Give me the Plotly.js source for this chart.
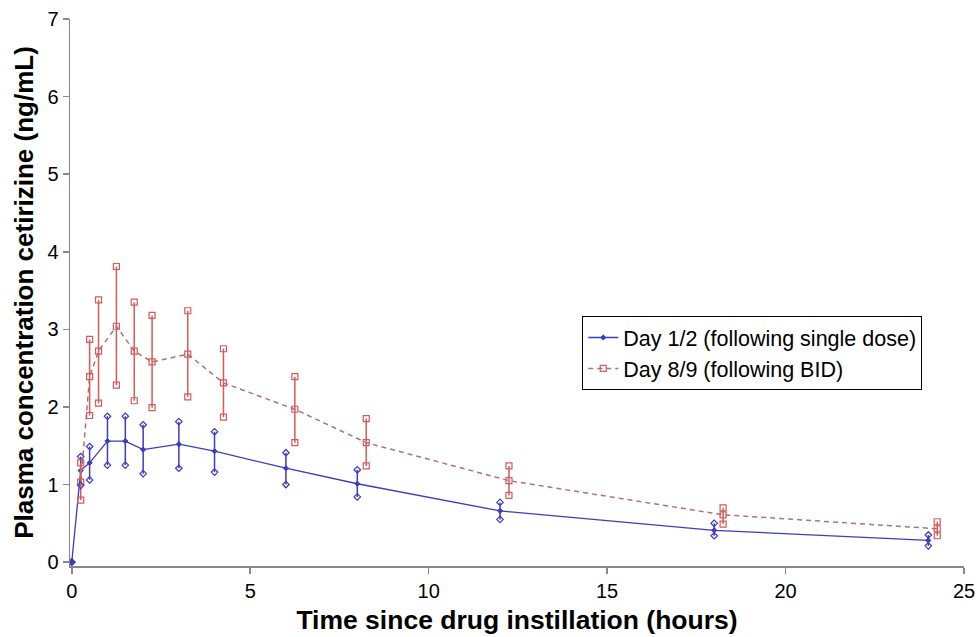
<!DOCTYPE html>
<html>
<head>
<meta charset="utf-8">
<script src="https://cdn.plot.ly/plotly-3.0.1.min.js"></script>
<style>body{margin:0;background:#fff;}#chart{width:977px;height:637px;}</style>
</head>
<body>
<div id="chart"></div>
<script>
// Day 1/2 (following single dose)
const day1Time  = [0, 0.25, 0.5, 1, 1.5, 2, 3, 4, 6, 8, 12, 18, 24];
const day1Mean  = [0, 1.18, 1.28, 1.56, 1.56, 1.45, 1.52, 1.43, 1.21, 1.01, 0.66, 0.41, 0.28];
const day1Upper = [0, 1.36, 1.49, 1.88, 1.88, 1.77, 1.81, 1.68, 1.41, 1.19, 0.77, 0.50, 0.35];
const day1Lower = [0, 0.99, 1.06, 1.25, 1.25, 1.14, 1.21, 1.16, 1.00, 0.84, 0.55, 0.34, 0.21];

// Day 8/9 (following BID)
const day8Time  = [0.25, 0.5, 0.75, 1.25, 1.75, 2.25, 3.25, 4.25, 6.25, 8.25, 12.25, 18.25, 24.25];
const day8Mean  = [1.03, 2.39, 2.72, 3.04, 2.72, 2.58, 2.68, 2.31, 1.97, 1.54, 1.05, 0.61, 0.43];
const day8Upper = [1.28, 2.87, 3.38, 3.81, 3.35, 3.18, 3.24, 2.75, 2.39, 1.85, 1.24, 0.70, 0.52];
const day8Lower = [0.80, 1.89, 2.05, 2.28, 2.08, 1.99, 2.13, 1.87, 1.54, 1.24, 0.86, 0.49, 0.34];

const xTicks = [0, 5, 10, 15, 20, 25];
const yTicks = [0, 1, 2, 3, 4, 5, 6, 7];

const blue = '#3b3bc4';
const redLine = '#b07272';
const redBar = '#d65a5a';

function diff(a, b) { return a.map((v, i) => v - b[i]); }

const traces = [
  {
    x: day1Time, y: day1Mean, type: 'scatter', mode: 'lines+markers',
    name: 'Day 1/2 (following single dose)',
    line: {color: blue, width: 1.3},
    marker: {symbol: 'diamond', size: 4, color: blue, line: {color: blue, width: 1}},
    error_y: {type: 'data', symmetric: false, array: diff(day1Upper, day1Mean), arrayminus: diff(day1Mean, day1Lower), color: blue, thickness: 1.5, width: 0}
  },
  {
    x: day8Time, y: day8Mean, type: 'scatter', mode: 'lines+markers',
    name: 'Day 8/9 (following BID)',
    line: {color: redLine, width: 1.5, dash: '5px,4px'},
    marker: {symbol: 'square-open', size: 6, color: redBar, line: {color: redBar, width: 1.2}},
    error_y: {type: 'data', symmetric: false, array: diff(day8Upper, day8Mean), arrayminus: diff(day8Mean, day8Lower), color: redBar, thickness: 1.5, width: 0}
  },
  {x: day1Time, y: day1Upper, type: 'scatter', mode: 'markers', showlegend: false, hoverinfo: 'skip',
   marker: {symbol: 'diamond-open', size: 5, color: blue, line: {color: blue, width: 1.2}}},
  {x: day1Time, y: day1Lower, type: 'scatter', mode: 'markers', showlegend: false, hoverinfo: 'skip',
   marker: {symbol: 'diamond-open', size: 5, color: blue, line: {color: blue, width: 1.2}}},
  {x: day8Time, y: day8Upper, type: 'scatter', mode: 'markers', showlegend: false, hoverinfo: 'skip',
   marker: {symbol: 'square-open', size: 6, color: redBar, line: {color: redBar, width: 1.2}}},
  {x: day8Time, y: day8Lower, type: 'scatter', mode: 'markers', showlegend: false, hoverinfo: 'skip',
   marker: {symbol: 'square-open', size: 6, color: redBar, line: {color: redBar, width: 1.2}}}
];

const layout = {
  width: 977, height: 637,
  margin: {l: 70, r: 13, t: 19, b: 71},
  paper_bgcolor: '#fff', plot_bgcolor: '#fff',
  font: {family: 'Arial, "Liberation Sans", sans-serif', color: '#000', size: 20},
  showlegend: true,
  legend: {
    x: 0.573, y: 0.457, xanchor: 'left', yanchor: 'top',
    bordercolor: '#000', borderwidth: 1, bgcolor: '#fff',
    font: {size: 21.5, color: '#000'}, tracegroupgap: 0, itemwidth: 30
  },
  xaxis: {
    range: [-0.05, 25], tickvals: xTicks, ticktext: xTicks.map(String),
    showgrid: false, zeroline: false, showline: true, linecolor: '#888', linewidth: 1.5,
    ticks: 'outside', ticklen: 6, tickcolor: '#888', tickwidth: 1.5,
    tickfont: {size: 20},
    title: {text: '<b>Time since drug instillation (hours)</b>', font: {size: 26.5}, standoff: 10}
  },
  yaxis: {
    range: [-0.05, 7], tickvals: yTicks, ticktext: yTicks.map(String),
    showgrid: false, zeroline: false, showline: true, linecolor: '#888', linewidth: 1.5,
    ticks: 'outside', ticklen: 6, tickcolor: '#888', tickwidth: 1.5,
    tickfont: {size: 20},
    title: {text: '<b>Plasma concentration cetirizine (ng/mL)</b>', font: {size: 26}, standoff: 6}
  }
};

Plotly.newPlot('chart', traces, layout, {displayModeBar: false, staticPlot: true});
</script>
</body>
</html>
